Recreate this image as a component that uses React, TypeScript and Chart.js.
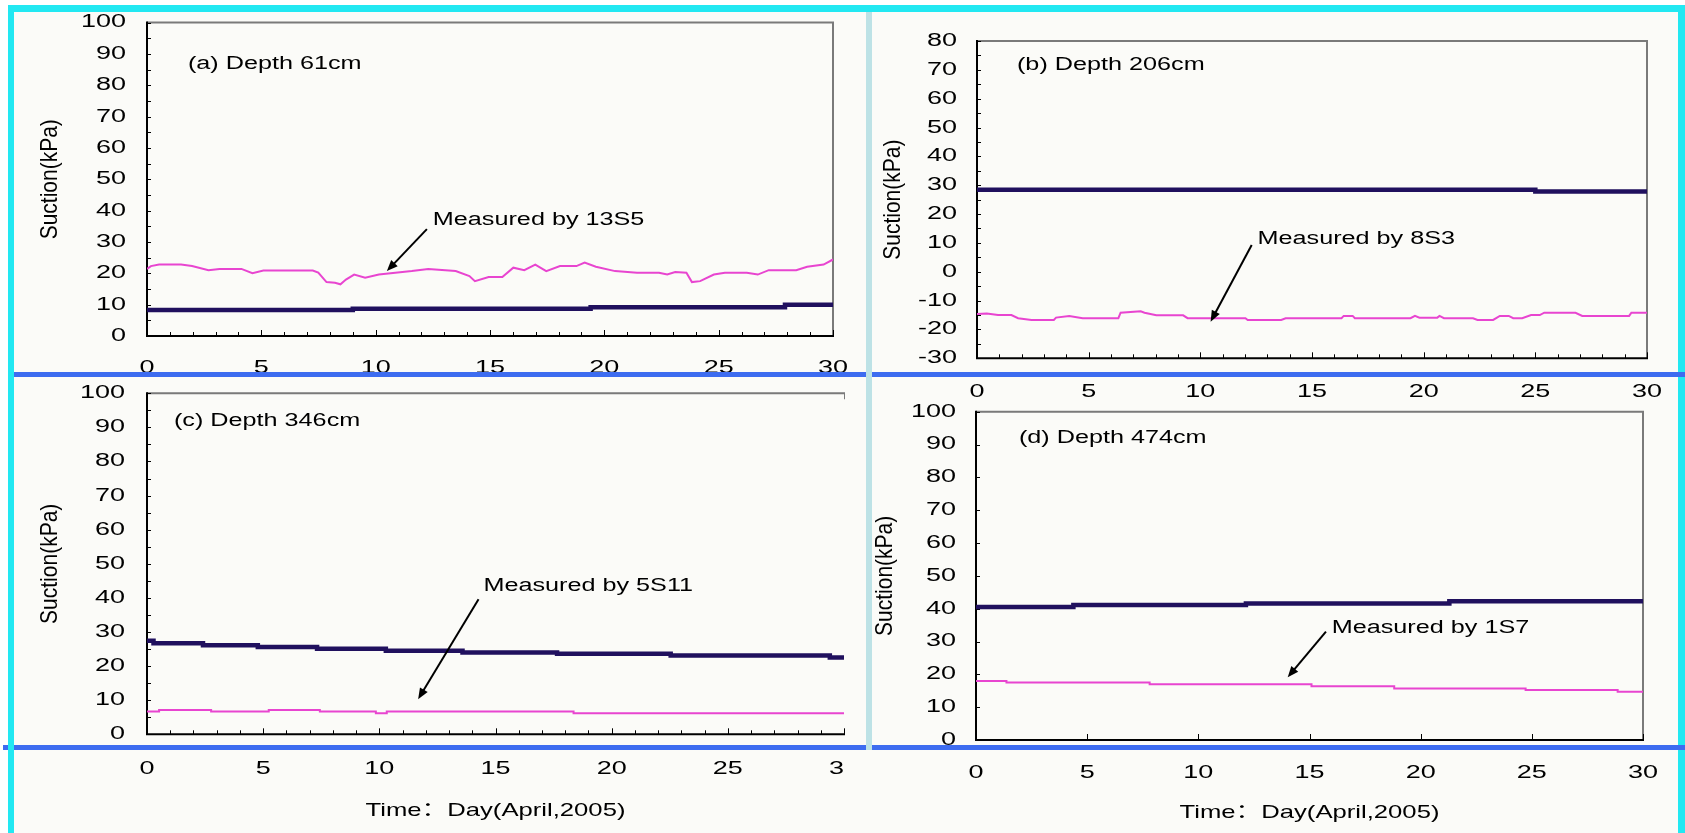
import React, { useEffect, useRef } from "react";
import { Chart, registerables } from "chart.js";
Chart.register(...registerables);

// ---------- shared axis data ----------
const DAY_MIN = 0;
const DAY_MAX = 30;
const DAY_STEP = 5;
const Y_TITLE = "Suction(kPa)";
const X_TITLE = "Time：Day(April,2005)";

// ---------- panel (a) ----------
const aDepthLabel = "(a) Depth 61cm";
const aSensorLabel = "Measured by 13S5";
const aYRange = [0, 100];
const aNavyDays = [0, 9.0, 19.4, 27.9, 30];
const aNavyVals = [8.3, 8.7, 9.2, 10.0, 10.0];
const aPinkDays = [0, 0.17, 0.53, 1.49, 1.97, 2.69, 3.17, 4.13, 4.61, 5.09, 7.25, 7.49, 7.85, 8.22, 8.46, 8.7, 9.06, 9.54, 10.14, 10.86, 11.58, 12.3, 13.5, 14.1, 14.34, 14.94, 15.54, 16.02, 16.5, 16.98, 17.46, 18.06, 18.78, 19.14, 19.63, 20.47, 21.43, 22.39, 22.75, 23.1, 23.59, 23.83, 24.19, 24.79, 25.27, 26.23, 26.71, 27.19, 28.39, 28.87, 29.59, 30];
const aPinkVals = [21.4, 22.3, 22.8, 22.8, 22.3, 21.0, 21.4, 21.4, 20.0, 20.9, 20.9, 20.2, 17.2, 17.0, 16.5, 18.0, 19.6, 18.6, 19.6, 20.2, 20.7, 21.4, 20.7, 19.1, 17.5, 18.8, 18.8, 21.8, 21.0, 22.8, 20.7, 22.3, 22.3, 23.4, 22.1, 20.7, 20.2, 20.2, 19.6, 20.4, 20.2, 17.2, 17.5, 19.6, 20.2, 20.2, 19.6, 21.0, 21.0, 22.1, 22.8, 24.4];
const aDepthAt = [1.79, 86.9];
const aSensorAt = [12.5, 37];
const aArrow = [12.24, 34.1, 10.49, 20.7];

// ---------- panel (b) ----------
const bDepthLabel = "(b) Depth 206cm";
const bSensorLabel = "Measured by 8S3";
const bYRange = [-30, 80];
const bNavyDays = [0, 25.0, 30];
const bNavyVals = [28.4, 27.8, 27.8];
const bPinkDays = [0, 0.44, 0.94, 1.54, 1.84, 2.44, 3.44, 3.54, 4.13, 4.73, 6.33, 6.43, 7.33, 7.5, 8.03, 9.23, 9.43, 12.02, 12.12, 13.62, 13.82, 16.32, 16.42, 16.82, 16.92, 19.41, 19.61, 19.81, 20.61, 20.71, 20.91, 22.21, 22.41, 23.11, 23.41, 23.81, 24.01, 24.41, 24.81, 25.2, 25.4, 26.8, 27.1, 29.2, 29.3, 30];
const bPinkVals = [-14.6, -14.5, -15.0, -15.0, -16.1, -16.7, -16.7, -15.9, -15.3, -16.1, -16.1, -14.2, -13.7, -14.2, -15.1, -15.1, -16.1, -16.1, -16.7, -16.7, -16.1, -16.1, -15.3, -15.3, -16.1, -16.1, -15.3, -15.9, -15.9, -15.3, -16.1, -16.1, -16.7, -16.7, -15.3, -15.3, -16.1, -16.1, -15.0, -15.0, -14.2, -14.2, -15.3, -15.3, -14.2, -14.2];
const bDepthAt = [1.79, 71.7];
const bSensorAt = [12.56, 11.4];
const bArrow = [12.3, 9.3, 10.46, -17.3];

// ---------- panel (c) ----------
const cDepthLabel = "(c) Depth 346cm";
const cSensorLabel = "Measured by 5S11";
const cYRange = [0, 100];
const cNavyDays = [0, 0.28, 2.41, 4.77, 7.32, 10.28, 13.58, 17.65, 22.54, 29.39, 30];
const cNavyVals = [27.4, 26.7, 26.1, 25.6, 25.1, 24.5, 24.0, 23.6, 23.1, 22.5, 22.5];
const cPinkDays = [0, 0.52, 2.76, 5.24, 7.44, 9.85, 10.32, 18.36, 30];
const cPinkVals = [6.65, 7.1, 6.65, 7.1, 6.65, 6.2, 6.65, 6.2, 6.2];
const cDepthAt = [1.16, 91.9];
const cSensorAt = [14.48, 43.6];
const cArrow = [14.27, 39.6, 11.67, 10.3];

// ---------- panel (d) ----------
const dDepthLabel = "(d) Depth 474cm";
const dSensorLabel = "Measured by 1S7";
const dYRange = [0, 100];
const dNavyDays = [0, 4.38, 12.14, 21.29, 30];
const dNavyVals = [40.5, 41.1, 41.6, 42.3, 42.3];
const dPinkDays = [0, 1.37, 7.81, 15.09, 18.81, 24.72, 28.86, 30];
const dPinkVals = [18.0, 17.5, 17.0, 16.4, 15.7, 15.2, 14.7, 14.7];
const dDepthAt = [1.93, 92];
const dSensorAt = [16.0, 34.1];
const dArrow = [15.74, 33.0, 14.02, 19.1];

// ---------- styles ----------
const NAVY = "#20105e";
const PINK = "#e845d0";
const FONT = '"Liberation Sans", Arial, "Noto Sans CJK SC", sans-serif';
const TICK_STRETCH = 1.5;
const NOTE_STRETCH = 1.4;
const XTITLE_STRETCH = 1.35;

type Rect = { left: number; top: number; right: number; bottom: number };
type PanelCfg = {
  canvas: Rect;
  plot: Rect;
  yRange: number[];
  yLabelPad: number;
  xLabelPad: number;
  xMinor: number;
  yMinor: number;
  navyDays: number[];
  navyVals: number[];
  pinkDays: number[];
  pinkVals: number[];
  pinkStepped: boolean;
  depthLabel: string;
  depthAt: number[];
  sensorLabel: string;
  sensorAt: number[];
  arrow: number[];
  yTitleDx: number;
  xTitleDy: number | null;
  rightStub: boolean;
};

const panels: PanelCfg[] = [
  {
    canvas: { left: 16, top: 12, right: 868, bottom: 372 },
    plot: { left: 147, top: 22.5, right: 833, bottom: 336 },
    yRange: aYRange, yLabelPad: 21, xLabelPad: 21, xMinor: 1, yMinor: 5,
    navyDays: aNavyDays, navyVals: aNavyVals, pinkDays: aPinkDays, pinkVals: aPinkVals, pinkStepped: false,
    depthLabel: aDepthLabel, depthAt: aDepthAt, sensorLabel: aSensorLabel, sensorAt: aSensorAt, arrow: aArrow,
    yTitleDx: 96, xTitleDy: null, rightStub: false,
  },
  {
    canvas: { left: 872, top: 12, right: 1677, bottom: 405 },
    plot: { left: 977, top: 41, right: 1647, bottom: 358.3 },
    yRange: bYRange, yLabelPad: 20, xLabelPad: 23, xMinor: 1, yMinor: 5,
    navyDays: bNavyDays, navyVals: bNavyVals, pinkDays: bPinkDays, pinkVals: bPinkVals, pinkStepped: false,
    depthLabel: bDepthLabel, depthAt: bDepthAt, sensorLabel: bSensorLabel, sensorAt: bSensorAt, arrow: bArrow,
    yTitleDx: 83, xTitleDy: null, rightStub: false,
  },
  {
    canvas: { left: 16, top: 377, right: 845, bottom: 833 },
    plot: { left: 147, top: 393.3, right: 844, bottom: 734.3 },
    yRange: cYRange, yLabelPad: 22, xLabelPad: 24, xMinor: 1, yMinor: 5,
    navyDays: cNavyDays, navyVals: cNavyVals, pinkDays: cPinkDays, pinkVals: cPinkVals, pinkStepped: true,
    depthLabel: cDepthLabel, depthAt: cDepthAt, sensorLabel: cSensorLabel, sensorAt: cSensorAt, arrow: cArrow,
    yTitleDx: 96, xTitleDy: 76, rightStub: true,
  },
  {
    canvas: { left: 872, top: 377, right: 1677, bottom: 833 },
    plot: { left: 976, top: 411.7, right: 1643, bottom: 740 },
    yRange: dYRange, yLabelPad: 20, xLabelPad: 22, xMinor: 5, yMinor: 10,
    navyDays: dNavyDays, navyVals: dNavyVals, pinkDays: dPinkDays, pinkVals: dPinkVals, pinkStepped: true,
    depthLabel: dDepthLabel, depthAt: dDepthAt, sensorLabel: dSensorLabel, sensorAt: dSensorAt, arrow: dArrow,
    yTitleDx: 90, xTitleDy: 73, rightStub: false,
  },
];

function toPoints(days: number[], vals: number[]) {
  return days.map((d, i) => ({ x: d, y: vals[i] }));
}

function PanelChart({ cfg }: { cfg: PanelCfg }) {
  const ref = useRef<HTMLCanvasElement>(null);
  const w = cfg.canvas.right - cfg.canvas.left;
  const h = cfg.canvas.bottom - cfg.canvas.top;

  useEffect(() => {
    const canvas = ref.current!;
    const ctx: any = canvas.getContext("2d")!;
    if (!ctx.__raw) {
      const raw = ctx.fillText.bind(ctx);
      ctx.__raw = raw;
      ctx.__sx = TICK_STRETCH;
      ctx.fillText = (t: string, x: number, y: number, mw?: number) => {
        ctx.save();
        ctx.translate(x, y);
        ctx.scale(ctx.__sx, 1);
        if (mw === undefined) raw(t, 0, 0);
        else raw(t, 0, 0, mw);
        ctx.restore();
      };
    }
    ctx.__sx = TICK_STRETCH;

    const yAxisW = cfg.plot.left - cfg.canvas.left;
    const xAxisH = cfg.canvas.bottom - cfg.plot.bottom;

    const framePlugin = {
      id: "frame",
      beforeDatasetsDraw(chart: any) {
        const c = chart.ctx;
        const { left, right, top, bottom } = chart.chartArea;
        const xs = chart.scales.x;
        const ys = chart.scales.y;
        c.save();
        c.lineWidth = 2;
        c.strokeStyle = "#7a7a7a";
        c.beginPath();
        c.moveTo(left, top);
        c.lineTo(right + 1, top);
        if (cfg.rightStub) {
          c.moveTo(right + 1, top);
          c.lineTo(right + 1, top + 6);
        } else {
          c.moveTo(right, top);
          c.lineTo(right, bottom);
        }
        c.stroke();
        c.strokeStyle = "#000";
        c.beginPath();
        c.moveTo(left, top - 1);
        c.lineTo(left, bottom + 1);
        c.moveTo(left - 1, bottom);
        c.lineTo(right + 1, bottom);
        c.stroke();
        c.lineWidth = 1;
        c.beginPath();
        for (let v = DAY_MIN; v <= DAY_MAX; v += cfg.xMinor) {
          const px = Math.round(xs.getPixelForValue(v)) + 0.5;
          const len = v % DAY_STEP === 0 ? 6 : 4;
          c.moveTo(px, bottom);
          c.lineTo(px, bottom - len);
        }
        for (let v = cfg.yRange[0]; v <= cfg.yRange[1]; v += cfg.yMinor) {
          const py = Math.round(ys.getPixelForValue(v)) + 0.5;
          c.moveTo(left, py);
          c.lineTo(left + 4, py);
        }
        c.stroke();
        c.restore();
      },
      afterDraw(chart: any) {
        const c: any = chart.ctx;
        const xs = chart.scales.x;
        const ys = chart.scales.y;
        const { left, right, top, bottom } = chart.chartArea;
        c.save();
        c.fillStyle = "#000";
        c.strokeStyle = "#000";
        // annotations
        c.__sx = NOTE_STRETCH;
        c.font = `18px ${FONT}`;
        c.textAlign = "left";
        c.textBaseline = "middle";
        c.fillText(cfg.depthLabel, xs.getPixelForValue(cfg.depthAt[0]), ys.getPixelForValue(cfg.depthAt[1]));
        c.fillText(cfg.sensorLabel, xs.getPixelForValue(cfg.sensorAt[0]), ys.getPixelForValue(cfg.sensorAt[1]));
        // arrow
        const x1 = xs.getPixelForValue(cfg.arrow[0]);
        const y1 = ys.getPixelForValue(cfg.arrow[1]);
        const x2 = xs.getPixelForValue(cfg.arrow[2]);
        const y2 = ys.getPixelForValue(cfg.arrow[3]);
        const ang = Math.atan2(y2 - y1, x2 - x1);
        const hl = 11;
        const hw = 4.5;
        c.lineWidth = 2;
        c.beginPath();
        c.moveTo(x1, y1);
        c.lineTo(x2 - Math.cos(ang) * (hl - 2), y2 - Math.sin(ang) * (hl - 2));
        c.stroke();
        c.beginPath();
        c.moveTo(x2, y2);
        c.lineTo(x2 - Math.cos(ang) * hl - Math.sin(ang) * hw, y2 - Math.sin(ang) * hl + Math.cos(ang) * hw);
        c.lineTo(x2 - Math.cos(ang) * hl + Math.sin(ang) * hw, y2 - Math.sin(ang) * hl - Math.cos(ang) * hw);
        c.closePath();
        c.fill();
        // x title
        if (cfg.xTitleDy !== null) {
          c.__sx = XTITLE_STRETCH;
          c.font = `19px ${FONT}`;
          c.textAlign = "center";
          c.fillText(X_TITLE, (left + right) / 2, bottom + cfg.xTitleDy);
        }
        // y title (rotated)
        c.translate(left - cfg.yTitleDx, (top + bottom) / 2);
        c.rotate(-Math.PI / 2);
        c.scale(1, 1.1);
        c.font = `21px ${FONT}`;
        c.textAlign = "center";
        c.textBaseline = "middle";
        c.__raw(Y_TITLE, 0, 0);
        c.restore();
        c.__sx = TICK_STRETCH;
      },
    };

    const tickFont = { family: FONT, size: 18 };
    const chart = new Chart(canvas, {
      type: "line",
      data: {
        datasets: [
          {
            data: toPoints(cfg.pinkDays, cfg.pinkVals),
            borderColor: PINK,
            backgroundColor: PINK,
            borderWidth: 2,
            pointRadius: 0,
            stepped: cfg.pinkStepped,
            tension: 0,
          },
          {
            data: toPoints(cfg.navyDays, cfg.navyVals),
            borderColor: NAVY,
            backgroundColor: NAVY,
            borderWidth: 4.5,
            pointRadius: 0,
            stepped: true,
          },
        ],
      },
      options: {
        animation: false,
        responsive: false,
        maintainAspectRatio: false,
        events: [],
        layout: {
          padding: {
            left: 0,
            bottom: 0,
            top: cfg.plot.top - cfg.canvas.top,
            right: cfg.canvas.right - cfg.plot.right,
          },
        },
        plugins: { legend: { display: false }, tooltip: { enabled: false }, title: { display: false } },
        scales: {
          x: {
            type: "linear",
            min: DAY_MIN,
            max: DAY_MAX,
            grid: { display: false, drawTicks: false },
            border: { display: false },
            ticks: {
              stepSize: DAY_STEP,
              autoSkip: false,
              maxRotation: 0,
              color: "#000",
              font: tickFont,
              padding: cfg.xLabelPad,
            },
            afterFit: (s: any) => {
              s.height = xAxisH;
              s.paddingLeft = 0;
              s.paddingRight = 0;
            },
          },
          y: {
            type: "linear",
            min: cfg.yRange[0],
            max: cfg.yRange[1],
            grid: { display: false, drawTicks: false },
            border: { display: false },
            ticks: {
              stepSize: 10,
              autoSkip: false,
              color: "#000",
              font: tickFont,
              padding: cfg.yLabelPad,
            },
            afterFit: (s: any) => {
              s.width = yAxisW;
              s.paddingTop = 0;
              s.paddingBottom = 0;
            },
          },
        },
      } as any,
      plugins: [framePlugin],
    });
    return () => chart.destroy();
  }, []);

  return (
    <canvas
      ref={ref}
      width={w}
      height={h}
      style={{ position: "absolute", left: cfg.canvas.left, top: cfg.canvas.top, width: w, height: h, zIndex: 1 }}
    />
  );
}

const CYAN = "#22e8f2";
const BLUE = "#3d6cf0";
const DIVIDER = "#bde2e6";

function Bar({ l, t, w, h, c, z }: { l: number; t: number; w: number; h: number; c: string; z: number }) {
  return <div style={{ position: "absolute", left: l, top: t, width: w, height: h, background: c, zIndex: z }} />;
}

export default function App() {
  return (
    <div
      style={{
        position: "fixed",
        left: 0,
        top: 0,
        width: 1685,
        height: 833,
        background: "#ffffff",
        overflow: "hidden",
      }}
    >
      <div style={{ position: "absolute", left: 8, top: 5, width: 1677, height: 828, background: "#fbfbf8" }} />
      {panels.map((p, i) => (
        <PanelChart key={i} cfg={p} />
      ))}
      {/* frame */}
      <Bar l={8} t={5} w={1677} h={7} c={CYAN} z={5} />
      <Bar l={8} t={5} w={6} h={828} c={CYAN} z={6} />
      <Bar l={1678} t={5} w={7} h={828} c={CYAN} z={5} />
      <Bar l={14} t={372} w={1671} h={5} c={BLUE} z={6} />
      <Bar l={3} t={745} w={1682} h={5} c={BLUE} z={5} />
      <Bar l={866} t={12} w={6} h={738} c={DIVIDER} z={7} />
    </div>
  );
}
